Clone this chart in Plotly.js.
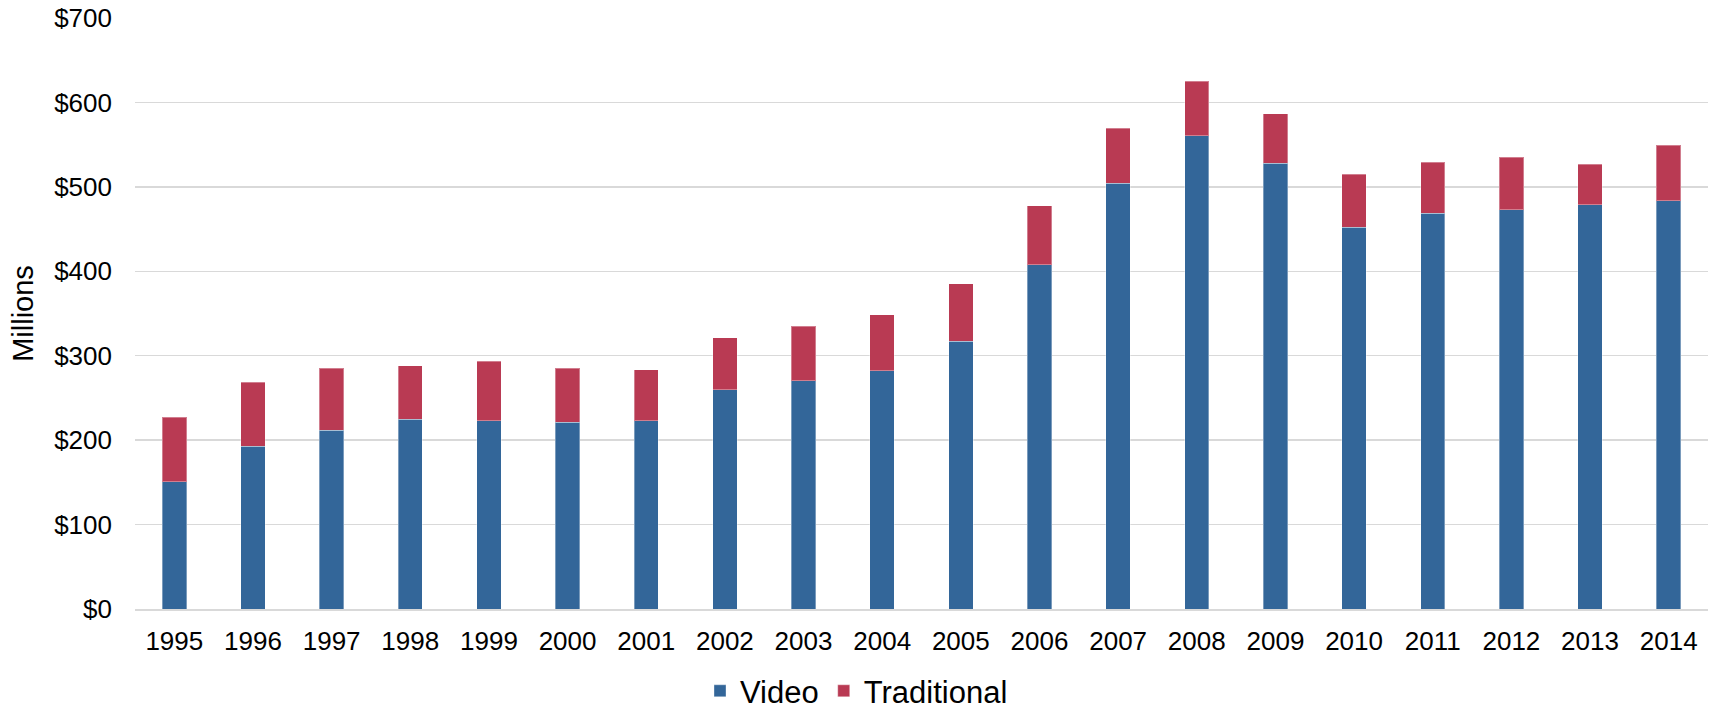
<!DOCTYPE html>
<html>
<head>
<meta charset="utf-8">
<script src="https://cdn.plot.ly/plotly-3.0.1.min.js"></script>
<style>
  html, body { margin: 0; padding: 0; background: #ffffff; }
  #chart { width: 1713px; height: 714px; }
</style>
</head>
<body>
<div id="chart"></div>
<script>
const years = ["1995","1996","1997","1998","1999","2000","2001","2002","2003","2004",
               "2005","2006","2007","2008","2009","2010","2011","2012","2013","2014"];
const video = [150.5, 192.5, 212, 224.7, 223.1, 221.2, 223.1, 259.9, 270.5, 282,
               317.2, 408, 504, 560.8, 528, 452.2, 468.8, 473.1, 478.7, 483.8];
const traditional = [76.8, 76.1, 73.2, 63.6, 70.3, 64.0, 60.1, 61.2, 64.4, 66.3,
                     67.9, 69.9, 65.5, 64.0, 58.5, 62.8, 60.4, 62.1, 48.2, 65.6];
const seriesNames = ["Video", "Traditional"];
const yTickVals = [0, 100, 200, 300, 400, 500, 600, 700];
const yTickLabels = ["$0", "$100", "$200", "$300", "$400", "$500", "$600", "$700"];

const FONT = "Liberation Sans, Arial, sans-serif";

const traces = [
  {
    type: "bar", name: seriesNames[0], x: years, y: video,
    marker: { color: "#336699", line: { color: "rgba(255,255,255,0.35)", width: 1 } },
    hoverinfo: "skip"
  },
  {
    type: "bar", name: seriesNames[1], x: years, y: traditional,
    marker: { color: "#b93a53", line: { color: "rgba(255,255,255,0.35)", width: 1 } },
    hoverinfo: "skip"
  }
];

const layout = {
  width: 1713, height: 714,
  margin: { l: 135, r: 5, t: 18, b: 105 },
  paper_bgcolor: "#ffffff", plot_bgcolor: "#ffffff",
  font: { family: FONT, color: "#000000", size: 26 },
  barmode: "stack",
  bargap: 0.69,
  showlegend: true,
  legend: {
    orientation: "h",
    xref: "container", yref: "container",
    x: 0.5, xanchor: "center",
    y: 0.032, yanchor: "middle",
    font: { family: FONT, size: 31, color: "#000000" },
    traceorder: "normal"
  },
  xaxis: {
    type: "category",
    tickfont: { family: FONT, size: 26, color: "#000000" },
    showgrid: false,
    showline: true, linecolor: "#d9d9d9", linewidth: 1.5,
    ticks: "", ticklabelstandoff: 8,
    fixedrange: true
  },
  yaxis: {
    range: [0, 700],
    tickmode: "array",
    tickvals: yTickVals,
    ticktext: yTickLabels,
    tickfont: { family: FONT, size: 26, color: "#000000" },
    showgrid: true, gridcolor: "#d9d9d9", gridwidth: 1.5,
    zeroline: false, showline: false,
    ticks: "", ticklabelstandoff: 22,
    title: { text: "Millions", font: { family: FONT, size: 29, color: "#000000" }, standoff: 12 },
    fixedrange: true
  }
};

Plotly.newPlot("chart", traces, layout, { displayModeBar: false, staticPlot: true });
</script>
</body>
</html>
